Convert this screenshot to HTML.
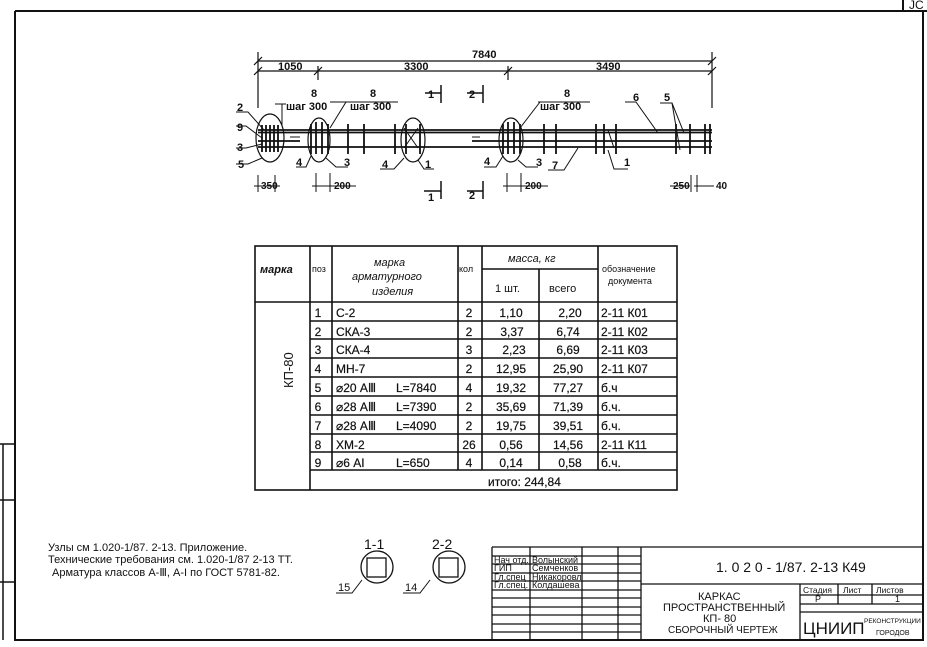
<!DOCTYPE html>
<html><head><meta charset="utf-8"><style>
html,body{margin:0;padding:0;background:#fff;}
svg{display:block;}
text{font-family:"Liberation Sans",sans-serif;fill:#111;}
</style></head><body>
<svg width="927" height="647" viewBox="0 0 927 647" xmlns="http://www.w3.org/2000/svg">
<g stroke="#111" fill="none">
<path d="M15 11 H903 M903 11 V0 M903 11 H927" stroke-width="2"/>
<path d="M15 11 V640 H923 V12" stroke-width="2"/>
<path d="M0 444 H16 M0 500 H16 M0 582 H16 M3 444 V640" stroke-width="1.5"/>
<g stroke-width="1.2">
<path d="M258 61 H712 M258 71 H712"/>
<path d="M258 52 V108 M318 66 V80 M508 66 V80 M712 52 V108"/>
<path d="M254 65 L262 57 M708 65 L716 57 M254 75 L262 67 M314 75 L322 67 M504 75 L512 67 M708 75 L716 67"/>
</g>
<path d="M258 130 H712 M258 132.5 H712" stroke-width="1.8"/>
<path d="M258 141 H300 M472 141 H712 M258 147 H712" stroke-width="1.8"/>
<path d="M290 137 H300 M472 137 H480" stroke-width="1"/>
<g stroke-width="1.8">
<path d="M262 125 V152 M266 125 V152 M270 125 V152 M274 125 V152 M278 125 V152"/>
<path d="M311 124 V154 M316 122 V154 M322 122 V154 M328 124 V154"/>
<path d="M348 124 V154 M364 124 V154 M395 124 V154"/>
<path d="M406 124 V154 M420 124 V154"/>
<path d="M503 124 V154 M508 122 V154 M514 122 V154 M520 124 V154"/>
<path d="M544 124 V154 M556 124 V154 M596 124 V154 M604 124 V154 M616 124 V154"/>
<path d="M676 124 V154 M690 124 V154 M705 124 V154 M710 124 V154"/>
</g>
<path d="M404 128 L418 148 M418 128 L404 148 M608 130 L614 148" stroke-width="1"/>
<g stroke-width="1.2">
<ellipse cx="270" cy="138" rx="14" ry="24"/>
<ellipse cx="319" cy="140" rx="11" ry="22"/>
<ellipse cx="413" cy="140" rx="12" ry="22"/>
<ellipse cx="511" cy="140" rx="12" ry="22"/>
</g>
<g stroke-width="1">
<path d="M236 112 H248 L264 130 M236 126 H246 L262 138 M236 148 H246 L262 144 M236 164 H248 L262 158"/>
<path d="M275 104 H286 M282 104 L282 125 M330 102 H398 M346 102 L330 128"/>
<path d="M296 167 H306 L311 156 M326 158 L336 167 H348"/>
<path d="M380 169 H394 L404 158 M418 160 L424 169 H434"/>
<path d="M484 167 H496 L503 156 M518 160 L526 167 H538"/>
<path d="M538 102 H590 M540 102 L520 128"/>
<path d="M548 170 H564 L578 148 M608 150 L614 169 H628"/>
<path d="M625 102 H636 L658 133 M660 103 H672 L684 133 M672 103 L680 150"/>
<path d="M425 93 H441 M441 85 V103 M467 93 H483 M483 85 V103 M424 191 H441 M441 181 V199 M467 191 H483 M483 181 V199" stroke-width="1.5"/>
<path d="M258 175 V192 M275 175 V192 M254 186 H280 M316 173 V192 M330 173 V192 M312 186 H356 M507 173 V192 M521 173 V192 M503 186 H548 M670 186 H690 M691 175 V192 M697 175 V192 M694 186 H714"/>
</g>
</g>
<g font-size="11" font-weight="bold">
<text x="472" y="58">7840</text>
<text x="278" y="70">1050</text>
<text x="404" y="70">3300</text>
<text x="596" y="70">3490</text>
<text x="311" y="97">8</text><text x="286" y="110">шаг 300</text>
<text x="370" y="97">8</text><text x="350" y="110">шаг 300</text>
<text x="564" y="97">8</text><text x="540" y="110">шаг 300</text>
<text x="237" y="111">2</text><text x="237" y="131">9</text><text x="237" y="151">3</text><text x="238" y="168">5</text>
<text x="296" y="166">4</text><text x="344" y="166">3</text>
<text x="382" y="168">4</text><text x="425" y="168">1</text>
<text x="484" y="165">4</text><text x="536" y="166">3</text>
<text x="552" y="169">7</text><text x="624" y="166">1</text>
<text x="633" y="101">6</text><text x="664" y="101">5</text>
<text x="428" y="98">1</text><text x="469" y="98">2</text>
<text x="428" y="201">1</text><text x="469" y="199">2</text>
<text x="261" y="189" font-size="10">350</text>
<text x="334" y="189" font-size="10">200</text>
<text x="525" y="189" font-size="10">200</text>
<text x="673" y="189" font-size="10">250</text>
<text x="716" y="189" font-size="10">40</text>
</g>
<g stroke="#111" stroke-width="1.6" fill="none">
<rect x="255" y="246" width="422" height="244"/>
<path d="M310 246 V490 M332 246 V470 M458 246 V470 M482 246 V470 M539 269 V470 M598 246 V470"/>
<path d="M482 269 H598 M255 302 H677"/>
<path d="M310 321 H677 M310 339 H677 M310 358 H677 M310 377 H677 M310 396 H677 M310 415 H677 M310 434 H677 M310 452 H677 M310 470 H677"/>
</g>
<g font-size="11">
<text x="260" y="273" font-style="italic" font-weight="bold">марка</text>
<text x="312" y="272" font-size="9">поз</text>
<text x="374" y="266" font-style="italic">марка</text>
<text x="352" y="280" font-style="italic">арматурного</text>
<text x="372" y="295" font-style="italic">изделия</text>
<text x="459" y="272" font-size="9">кол</text>
<text x="508" y="262" font-style="italic">масса, кг</text>
<text x="495" y="292">1 шт.</text>
<text x="549" y="292">всего</text>
<text x="602" y="272" font-size="9">обозначение</text>
<text x="608" y="284" font-size="9">документа</text>
<text transform="translate(293,388) rotate(-90)" font-size="13">КП-80</text>
</g>
<g font-size="12" stroke="#111" stroke-width="0.2">
<g text-anchor="middle">
<text x="318" y="317">1</text><text x="318" y="336">2</text><text x="318" y="354">3</text><text x="318" y="373">4</text><text x="318" y="392">5</text><text x="318" y="411">6</text><text x="318" y="430">7</text><text x="318" y="449">8</text><text x="318" y="467">9</text>
<text x="469" y="317">2</text><text x="469" y="336">2</text><text x="469" y="354">3</text><text x="469" y="373">2</text><text x="469" y="392">4</text><text x="469" y="411">2</text><text x="469" y="430">2</text><text x="469" y="449">26</text><text x="469" y="467">4</text>
<text x="511" y="317">1,10</text><text x="512" y="336">3,37</text><text x="514" y="354">2,23</text><text x="511" y="373">12,95</text><text x="511" y="392">19,32</text><text x="511" y="411">35,69</text><text x="511" y="430">19,75</text><text x="511" y="449">0,56</text><text x="511" y="467">0,14</text>
<text x="570" y="317">2,20</text><text x="568" y="336">6,74</text><text x="568" y="354">6,69</text><text x="568" y="373">25,90</text><text x="568" y="392">77,27</text><text x="568" y="411">71,39</text><text x="568" y="430">39,51</text><text x="568" y="449">14,56</text><text x="570" y="467">0,58</text>
</g>
<text x="336" y="317">С-2</text><text x="336" y="336">СКА-3</text><text x="336" y="354">СКА-4</text><text x="336" y="373">МН-7</text>
<text x="336" y="392">⌀20 АⅢ</text><text x="396" y="392">L=7840</text>
<text x="336" y="411">⌀28 АⅢ</text><text x="396" y="411">L=7390</text>
<text x="336" y="430">⌀28 АⅢ</text><text x="396" y="430">L=4090</text>
<text x="336" y="449">ХМ-2</text>
<text x="336" y="467">⌀6 АI</text><text x="396" y="467">L=650</text>
<text x="601" y="317">2-11  К01</text><text x="601" y="336">2-11  К02</text><text x="601" y="354">2-11  К03</text><text x="601" y="373">2-11  К07</text>
<text x="601" y="392">б.ч</text><text x="601" y="411">б.ч.</text><text x="601" y="430">б.ч.</text><text x="601" y="449">2-11  К11</text><text x="601" y="467">б.ч.</text>
<text x="488" y="486">итого:    244,84</text>
</g>
<g font-size="11">
<text x="48" y="551">Узлы см 1.020-1/87. 2-13. Приложение.</text>
<text x="48" y="563">Технические требования см. 1.020-1/87 2-13 ТТ.</text>
<text x="52" y="576">Арматура классов А-Ⅲ, А-I по ГОСТ 5781-82.</text>
<text x="364" y="549" font-size="14">1-1</text>
<text x="432" y="549" font-size="14">2-2</text>
<text x="338" y="591">15</text><text x="405" y="591">14</text>
</g>
<g stroke="#111" fill="none" stroke-width="1.3">
<circle cx="377" cy="567" r="16"/><rect x="367" y="558" width="19" height="19"/>
<circle cx="449" cy="567" r="16"/><rect x="439" y="558" width="19" height="19"/>
<path d="M336 593 H352 L362 580 M403 593 H420 L430 580" stroke-width="1"/>
</g>
<g stroke="#111" fill="none" stroke-width="1.3">
<path d="M492 547 H923 M492 547 V640 M530 547 V640 M582 547 V640 M618 547 V640 M641 547 V640"/>
<path d="M492 556 H641 M492 564 H641 M492 573 H641 M492 581 H641 M492 590 H641 M492 598 H641 M492 607 H641 M492 615 H641 M492 624 H641 M492 632 H641"/>
<path d="M641 584 H923 M800 584 V640 M838 584 V604 M872 584 V604 M800 595 H923 M800 604 H923 M800 612 H923"/>
</g>
<g font-size="9">
<text x="494" y="563">Нач отд.</text><text x="532" y="563">Волынский</text>
<text x="494" y="571">ГИП</text><text x="532" y="571">Семченков</text>
<text x="494" y="580">Гл.спец</text><text x="532" y="580">Никакоровл</text>
<text x="494" y="588">Гл.спец.</text><text x="532" y="588">Колдашева</text>
<text x="716" y="572" font-size="14">1. 0 2 0 - 1/87. 2-13  К49</text>
<text x="698" y="600" font-size="11">КАРКАС</text>
<text x="663" y="611" font-size="11">ПРОСТРАНСТВЕННЫЙ</text>
<text x="703" y="622" font-size="11">КП- 80</text>
<text x="668" y="633" font-size="10">СБОРОЧНЫЙ ЧЕРТЕЖ</text>
<text x="803" y="593" font-size="8.5">Стадия</text><text x="843" y="593" font-size="8.5">Лист</text><text x="876" y="593" font-size="8.5">Листов</text>
<text x="815" y="602">Р</text><text x="895" y="602">1</text>
<text x="803" y="634" font-size="17">ЦНИИП</text>
<text x="864" y="623" font-size="6.5">РЕКОНСТРУКЦИИ</text>
<text x="876" y="635" font-size="7">ГОРОДОВ</text>
</g>
<text x="909" y="9" font-size="12">JC</text>
</svg>
</body></html>
